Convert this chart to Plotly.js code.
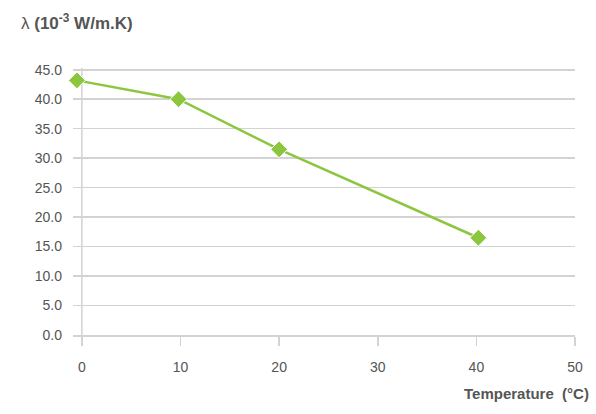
<!DOCTYPE html>
<html>
<head>
<meta charset="utf-8">
<script src="https://cdn.plot.ly/plotly-3.0.1.min.js"></script>
<style>html,body{margin:0;padding:0;background:#fff;}#chart{width:596px;height:414px;}</style>
</head>
<body>
<div id="chart"></div>
<script>
// Data
const temperature = [-0.5, 9.8, 20, 40.2];      // °C
const conductivity = [43.2, 40.0, 31.5, 16.5];   // 10^-3 W/m.K
const xTicks = [0, 10, 20, 30, 40, 50];
const yTicks = [0, 5, 10, 15, 20, 25, 30, 35, 40, 45];
const yTickText = yTicks.map(v => v.toFixed(1));
const yTitle = "λ <b>(10<sup>-3</sup> W/m.K)</b>";
const xTitle = "<b>Temperature  (°C)</b>";

const grey = '#555555';
const gridCol = '#d3d3d3';
const green = '#8cc63f';

const trace = {
  x: temperature, y: conductivity, type: 'scatter', mode: 'lines+markers',
  line: {color: green, width: 2.5},
  marker: {symbol: 'diamond', size: 13, color: green, line: {color: '#ffffff', width: 1}},
  cliponaxis: false, hoverinfo: 'skip'
};

const layout = {
  width: 596, height: 414,
  margin: {l: 73, r: 21, t: 68, b: 79},
  paper_bgcolor: '#ffffff', plot_bgcolor: '#ffffff',
  showlegend: false,
  font: {family: '"Liberation Sans", Arial, sans-serif', color: grey, size: 14},
  xaxis: {
    range: [-0.9, 50], tickvals: xTicks, ticktext: xTicks.map(String),
    showgrid: false, zeroline: false,
    showline: true, linecolor: gridCol, linewidth: 1.5,
    ticks: 'outside', ticklen: 9, tickcolor: gridCol, tickwidth: 1.5,
    ticklabelstandoff: 10,
    tickfont: {size: 14, color: grey}
  },
  yaxis: {
    range: [0, 45.3], tickvals: yTicks, ticktext: yTickText,
    showgrid: true, gridcolor: gridCol, gridwidth: 1.5,
    zeroline: false, showline: false, ticks: '',
    ticklabelstandoff: 10,
    tickfont: {size: 14, color: grey}
  },
  shapes: [
    {type: 'line', xref: 'x', yref: 'paper', x0: 0, x1: 0, y0: 0, y1: 1,
     line: {color: gridCol, width: 1.5}, layer: 'below'}
  ],
  annotations: [
    {text: yTitle, xref: 'paper', yref: 'paper', x: 0, y: 1, xanchor: 'left', yanchor: 'middle',
     xshift: -54, yshift: 46, showarrow: false, font: {size: 17, color: grey}},
    {text: xTitle, xref: 'paper', yref: 'paper', x: 1, y: 0, xanchor: 'right', yanchor: 'middle',
     xshift: 16, yshift: -58, showarrow: false, font: {size: 15, color: grey}}
  ]
};

Plotly.newPlot('chart', [trace], layout, {displayModeBar: false, staticPlot: true});
</script>
</body>
</html>
